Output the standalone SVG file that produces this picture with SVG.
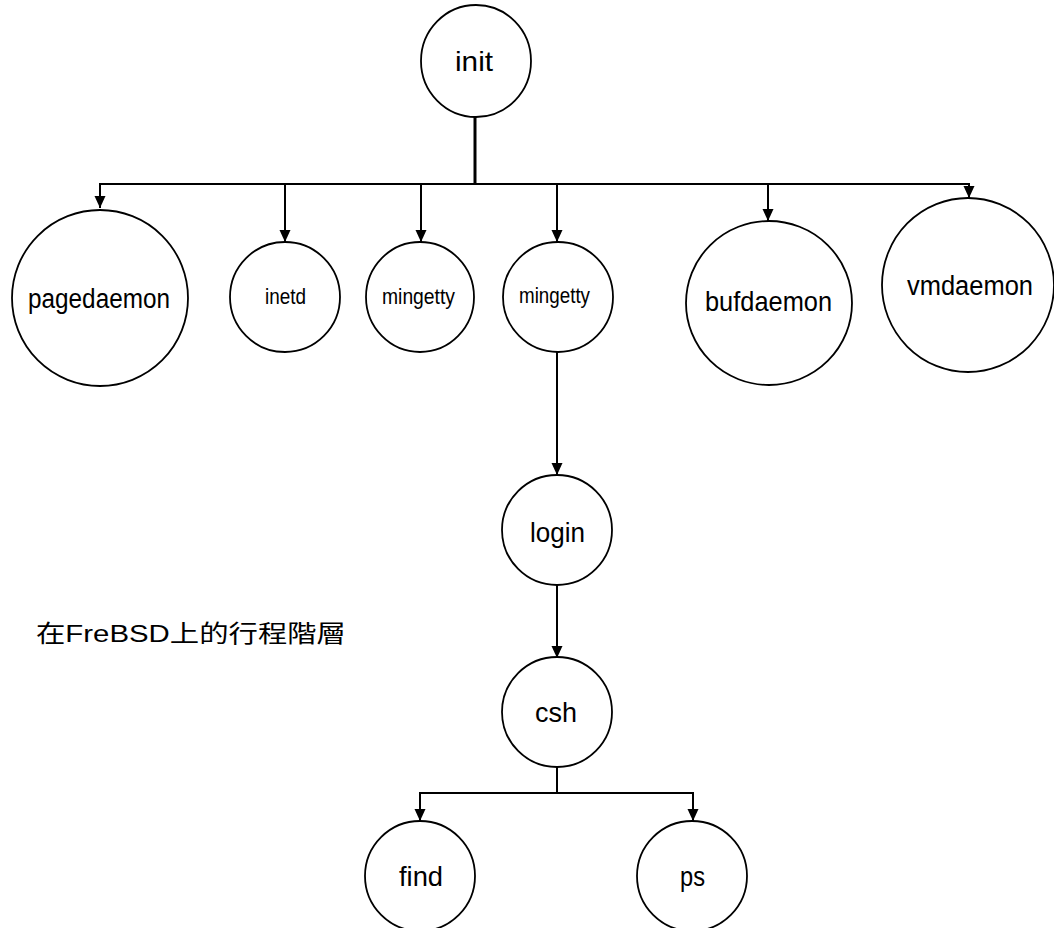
<svg xmlns="http://www.w3.org/2000/svg" width="1054" height="928" viewBox="0 0 1054 928">
<style>
.node{fill:#fff;stroke:#000;stroke-width:1.8}
.lbl{font-family:"Liberation Sans",Arial,sans-serif;fill:#000;text-anchor:middle}
.edge{fill:none;stroke:#000;stroke-width:2}
</style>
<defs>
<marker id="arr" markerUnits="userSpaceOnUse" markerWidth="12" markerHeight="12" refX="12" refY="6" orient="auto" viewBox="0 0 12 12">
<path d="M0,0.5 L12,6 L0,11.5 z" fill="#000"/>
</marker>
</defs>
<rect width="1054" height="928" fill="#fff"/>
<g id="connectors">
<line class="edge" x1="475" y1="116" x2="475" y2="184" style="stroke-width:3"/>
<line class="edge" x1="99" y1="184" x2="970" y2="184"/>
<line class="edge" x1="100" y1="183" x2="100" y2="208" marker-end="url(#arr)"/>
<line class="edge" x1="285" y1="184" x2="285" y2="242" marker-end="url(#arr)"/>
<line class="edge" x1="421" y1="184" x2="421" y2="242" marker-end="url(#arr)"/>
<line class="edge" x1="557" y1="184" x2="557" y2="242" marker-end="url(#arr)"/>
<line class="edge" x1="768" y1="184" x2="768" y2="221" marker-end="url(#arr)"/>
<line class="edge" x1="969" y1="183" x2="969" y2="198" marker-end="url(#arr)"/>
<line class="edge" x1="557" y1="352" x2="557" y2="475" marker-end="url(#arr)"/>
<line class="edge" x1="557" y1="585" x2="557" y2="658" marker-end="url(#arr)"/>
<line class="edge" x1="557" y1="767" x2="557" y2="793"/>
<line class="edge" x1="419" y1="793" x2="694" y2="793"/>
<line class="edge" x1="420" y1="792" x2="420" y2="821" marker-end="url(#arr)"/>
<line class="edge" x1="693" y1="792" x2="693" y2="821" marker-end="url(#arr)"/>
</g>
<g id="n-init">
<ellipse class="node" cx="476" cy="61" rx="55" ry="56"/>
<text class="lbl" x="474" y="71" font-size="28" textLength="38" lengthAdjust="spacingAndGlyphs">init</text>
</g>
<g id="n-pagedaemon">
<circle class="node" cx="100" cy="298" r="88"/>
<text class="lbl" x="99" y="308" font-size="27" textLength="142" lengthAdjust="spacingAndGlyphs">pagedaemon</text>
</g>
<g id="n-inetd">
<ellipse class="node" cx="285" cy="297" rx="55" ry="55"/>
<text class="lbl" x="285.5" y="304" font-size="22" textLength="41" lengthAdjust="spacingAndGlyphs">inetd</text>
</g>
<g id="n-mingetty1">
<ellipse class="node" cx="420" cy="297" rx="54" ry="55"/>
<text class="lbl" x="418.5" y="304" font-size="22" textLength="73" lengthAdjust="spacingAndGlyphs">mingetty</text>
</g>
<g id="n-mingetty2">
<ellipse class="node" cx="558" cy="297" rx="55" ry="55"/>
<text class="lbl" x="554.5" y="303" font-size="22" textLength="71" lengthAdjust="spacingAndGlyphs">mingetty</text>
</g>
<g id="n-bufdaemon">
<ellipse class="node" cx="769" cy="303" rx="83" ry="82"/>
<text class="lbl" x="768.5" y="311" font-size="28" textLength="127" lengthAdjust="spacingAndGlyphs">bufdaemon</text>
</g>
<g id="n-vmdaemon">
<ellipse class="node" cx="968" cy="285" rx="86" ry="87"/>
<text class="lbl" x="970" y="295" font-size="27" textLength="126" lengthAdjust="spacingAndGlyphs">vmdaemon</text>
</g>
<g id="n-login">
<ellipse class="node" cx="557" cy="530" rx="55" ry="55"/>
<text class="lbl" x="557.5" y="542" font-size="27" textLength="55" lengthAdjust="spacingAndGlyphs">login</text>
</g>
<g id="n-csh">
<ellipse class="node" cx="557" cy="712" rx="55" ry="55"/>
<text class="lbl" x="556" y="722" font-size="27" textLength="42" lengthAdjust="spacingAndGlyphs">csh</text>
</g>
<g id="n-find">
<ellipse class="node" cx="420" cy="876" rx="55" ry="55"/>
<text class="lbl" x="421" y="886" font-size="27" textLength="44" lengthAdjust="spacingAndGlyphs">find</text>
</g>
<g id="n-ps">
<ellipse class="node" cx="692" cy="876" rx="55" ry="55"/>
<text class="lbl" x="692.5" y="886" font-size="27" textLength="25" lengthAdjust="spacingAndGlyphs">ps</text>
</g>
<g id="caption">
<text x="36" y="642" font-family="'Liberation Sans','Noto Sans CJK TC',sans-serif" font-size="24" textLength="310" lengthAdjust="spacingAndGlyphs" fill="#000">在FreBSD上的行程階層</text>
</g>
</svg>
